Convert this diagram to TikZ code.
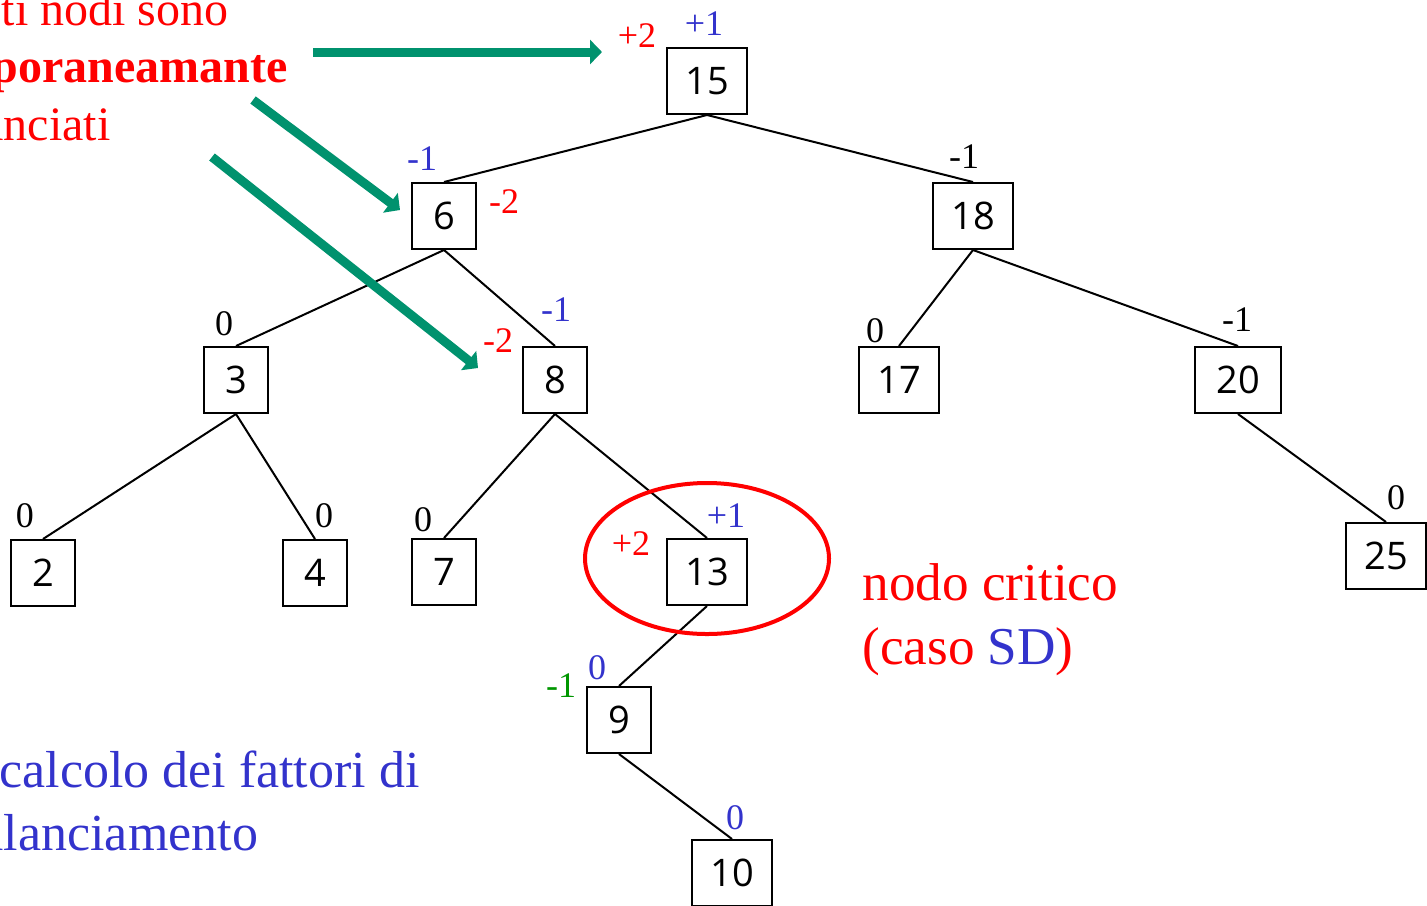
\documentclass[tikz,border=0pt]{standalone}
\usepackage{fontspec}
\setmainfont{Liberation Serif}
\newfontfamily\nodefont{Open Sans}
\usetikzlibrary{arrows.meta}
\definecolor{myred}{RGB}{255,0,0}
\definecolor{myblue}{RGB}{51,51,204}
\definecolor{mygreen}{RGB}{0,150,0}
\definecolor{myteal}{RGB}{0,146,110}
\tikzset{
  tnode/.style={draw, line width=1pt, minimum height=33pt, inner sep=0pt, font=\nodefont\fontsize{19}{19}\selectfont},
  one/.style={tnode, minimum width=32pt},
  two/.style={tnode, minimum width=40pt},
  bfac/.style={font=\fontsize{18}{18}\selectfont, inner sep=0pt},
  link/.style={line width=1pt},
  garrow/.style={line width=4.5pt, color=myteal, -{Triangle[length=6pt,width=12pt]}},
  topnote/.style={font=\fontsize{24}{24}\selectfont, inner sep=0pt, text=myred},
  bignote/.style={font=\fontsize{26}{26}\selectfont, inner sep=0pt}
}
\begin{document}
\begin{tikzpicture}[x=0.5pt,y=-0.5pt]
\clip (0,0) rectangle (1427,905);
% tree nodes
\node[two] (n15) at (707,81) {15};
\node[one] (n6)  at (444,216) {6};
\node[two] (n18) at (973,216) {18};
\node[one] (n3)  at (236,380) {3};
\node[one] (n8)  at (555,380) {8};
\node[two] (n17) at (899,380) {17};
\node[tnode, minimum width=43pt] (n20) at (1238,380) {20};
\node[one] (n2)  at (43,573) {2};
\node[one] (n4)  at (315,573) {4};
\node[one] (n7)  at (444,572) {7};
\node[two] (n13) at (707,572) {13};
\node[two] (n25) at (1386,556) {25};
\node[one] (n9)  at (619,720) {9};
\node[two] (n10) at (732,873) {10};
% edges
\draw[link] (n15.south) -- (n6.north);
\draw[link] (n15.south) -- (n18.north);
\draw[link] (n6.south) -- (n3.north);
\draw[link] (n6.south) -- (n8.north);
\draw[link] (n3.south) -- (n2.north);
\draw[link] (n3.south) -- (n4.north);
\draw[link] (n8.south) -- (n7.north);
\draw[link] (n8.south) -- (n13.north);
\draw[link] (n18.south) -- (n17.north);
\draw[link] (n18.south) -- (n20.north);
\draw[link] (n20.south) -- (n25.north);
\draw[link] (n13.south) -- (n9.north);
\draw[link] (n9.south) -- (n10.north);
% balance factors
\node[bfac, text=myblue] (b15) at (704,24) {+1};
\node[bfac, text=myred] (r15) at (637,36) {+2};
\node[bfac, text=myblue] (b6) at (422,159) {-1};
\node[bfac, text=myred] (r6) at (504,202) {-2};
\node[bfac] (b18) at (964,157) {-1};
\node[bfac] (b3) at (224,324) {0};
\node[bfac, text=myblue] (b8) at (556,310) {-1};
\node[bfac, text=myred] (r8) at (498,341) {-2};
\node[bfac] (b17) at (875,331) {0};
\node[bfac] (b20) at (1237,320) {-1};
\node[bfac] (b2) at (25,516) {0};
\node[bfac] (b4) at (324,516) {0};
\node[bfac] (b7) at (423,520) {0};
\node[bfac, text=myblue] (b13) at (726,516) {+1};
\node[bfac, text=myred] (r13) at (631,544) {+2};
\node[bfac] (b25) at (1396,498) {0};
\node[bfac, text=myblue] (b9) at (597,668) {0};
\node[bfac, text=mygreen] (g9) at (561,686) {-1};
\node[bfac, text=myblue] (b10) at (735,818) {0};
% critical node ellipse
\draw[myred, line width=2pt] (707,558.5) ellipse [x radius=61pt, y radius=37.75pt];
% notes
\node[topnote, anchor=base east] (t1) at (229,25) {questi nodi sono};
\node[topnote, anchor=base east, font=\fontsize{24}{24}\selectfont\bfseries] (t2) at (288,82) {contemporaneamante};
\node[topnote, anchor=base east] (t3) at (111,140) {sbilanciati};
\node[bignote, anchor=base west, text=myblue] (c1) at (-1,787) {calcolo dei fattori di};
\node[bignote, anchor=base west, text=myblue] (c2) at (-37,850) {bilanciamento};
\node[bignote, anchor=base west, text=myred, font=\fontsize{26.6}{26.6}\selectfont] (k1) at (862,600) {nodo critico};
\node[bignote, anchor=base west, text=myred, font=\fontsize{26.6}{26.6}\selectfont] (k2) at (862,664) {(caso \textcolor{myblue}{SD})};
% arrows
\coordinate (a1s) at (313,52);
\coordinate (a1e) at (602,52);
\coordinate (a2s) at (253,100);
\coordinate (a2e) at (400,210);
\coordinate (a3s) at (212,157);
\coordinate (a3e) at (478,368);
\draw[garrow] (a1s) -- (a1e);
\draw[garrow] (a2s) -- (a2e);
\draw[garrow] (a3s) -- (a3e);
\end{tikzpicture}
\end{document}
